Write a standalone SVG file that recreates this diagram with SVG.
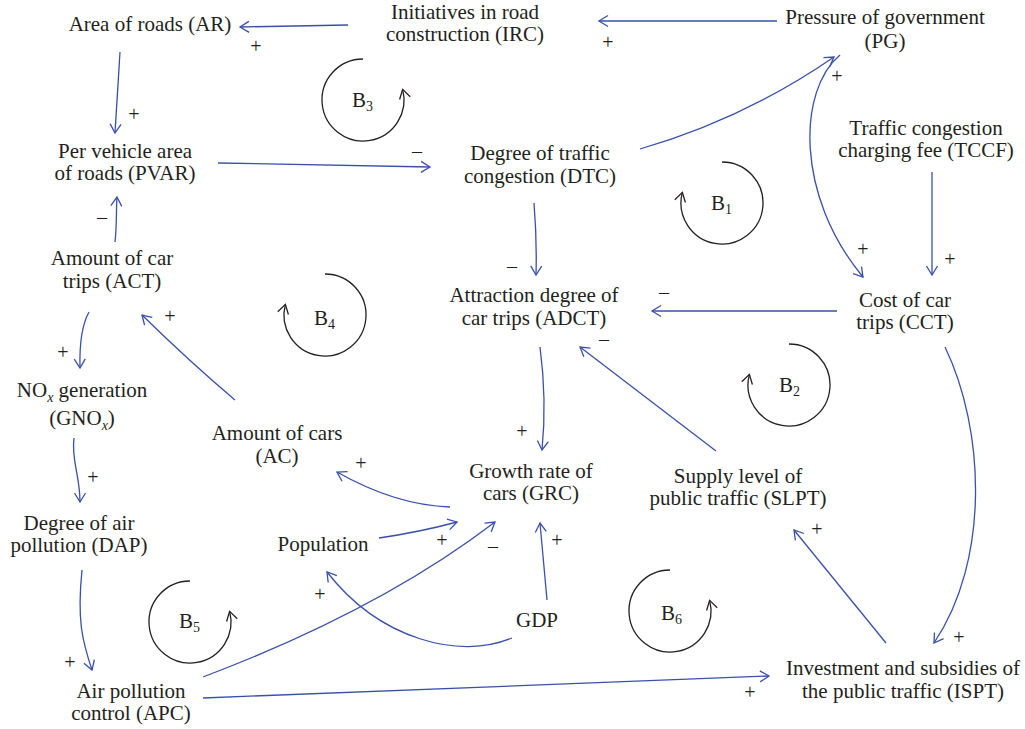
<svg xmlns="http://www.w3.org/2000/svg" width="1025" height="729" viewBox="0 0 1025 729">
<style>
text{font-family:"Liberation Serif","Times New Roman",serif;fill:#231f20}
.n{font-size:21px;text-anchor:middle}
.s{font-size:20px;text-anchor:middle}
.sub{font-size:14px}
.c{fill:none;stroke:#3a50a8;stroke-width:1.3;marker-end:url(#ah)}
.loop{fill:none;stroke:#231f20;stroke-width:1.3;marker-end:url(#lh)}
</style>
<defs>
<marker id="ah" markerUnits="userSpaceOnUse" viewBox="-11 -7 13 14" refX="0" refY="0" markerWidth="13" markerHeight="14" orient="auto">
<path d="M-9,-5.5 L0,0 L-9,5.5" fill="none" stroke="#3a50a8" stroke-width="1.3"/>
</marker>
<marker id="lh" markerUnits="userSpaceOnUse" viewBox="-11 -7 13 14" refX="0" refY="0" markerWidth="13" markerHeight="14" orient="auto">
<path d="M-9,-5.5 L0,0 L-9,5.5" fill="none" stroke="#231f20" stroke-width="1.3"/>
</marker>
</defs>
<rect width="1025" height="729" fill="#fff"/>

<g id="connectors">
<path class="c" d="M348,25 L240,27"/>
<path class="c" d="M777,21 L599,21"/>
<path class="c" d="M120,52 L115,133"/>
<path class="c" d="M218,163 L430,167"/>
<path class="c" d="M115,242 C117,225 116,210 117,197"/>
<path class="c" d="M640,149 Q744,119 834,57"/>
<path class="c" d="M840,55 C798,90 795,195 863,277"/>
<path class="c" d="M932,172 L932,275"/>
<path class="c" d="M534,203 Q537,240 536,275"/>
<path class="c" d="M837,311 L652,311"/>
<path class="c" d="M716,451 L580,347"/>
<path class="c" d="M540,347 Q547,400 542,450"/>
<path class="c" d="M945,347 C985,430 990,560 934,643"/>
<path class="c" d="M886,643 L794,530"/>
<path class="c" d="M203,698 L769,676"/>
<path class="c" d="M89,312 Q79,330 80,368"/>
<path class="c" d="M74,438 C71,460 80,475 80,502"/>
<path class="c" d="M82,570 C77,620 82,640 92,670"/>
<path class="c" d="M235,400 Q190,362 142,315"/>
<path class="c" d="M450,507 Q395,505 337,472"/>
<path class="c" d="M379,538 Q420,532 457,522"/>
<path class="c" d="M203,677 Q380,610 495,522"/>
<path class="c" d="M547,600 L540,523"/>
<path class="c" d="M512,638 C460,660 380,640 327,572"/>
</g>

<g id="signs">
<text class="s" x="256" y="53">+</text>
<text class="s" x="608" y="49">+</text>
<text class="s" x="134" y="121">+</text>
<text class="s" x="417" y="158">–</text>
<text class="s" x="102" y="224">–</text>
<text class="s" x="837" y="83">+</text>
<text class="s" x="863" y="256">+</text>
<text class="s" x="950" y="266">+</text>
<text class="s" x="512" y="273">–</text>
<text class="s" x="664" y="299">–</text>
<text class="s" x="604" y="346">–</text>
<text class="s" x="522" y="438">+</text>
<text class="s" x="959" y="644">+</text>
<text class="s" x="817" y="536">+</text>
<text class="s" x="750" y="699">+</text>
<text class="s" x="63" y="359">+</text>
<text class="s" x="93" y="484">+</text>
<text class="s" x="70" y="669">+</text>
<text class="s" x="170" y="323">+</text>
<text class="s" x="361" y="470">+</text>
<text class="s" x="442" y="547">+</text>
<text class="s" x="493" y="553">–</text>
<text class="s" x="557" y="547">+</text>
<text class="s" x="320" y="601">+</text>
</g>

<g id="loops">
<g id="B1"><path class="loop" d="M722,162 A41,41 0 1 1 682.4,192.4"/><text x="711" y="210" font-size="21">B<tspan class="sub" dy="4">1</tspan></text></g>
<g id="B2"><path class="loop" d="M789,344 A41,41 0 1 1 749.4,374.4"/><text x="779" y="392" font-size="21">B<tspan class="sub" dy="4">2</tspan></text></g>
<g id="B3"><path class="loop" d="M363,59 A41,41 0 1 0 402.6,89.4"/><text x="352" y="107" font-size="21">B<tspan class="sub" dy="4">3</tspan></text></g>
<g id="B4"><path class="loop" d="M325,274 A41,41 0 1 1 285.4,304.4"/><text x="314" y="325" font-size="21">B<tspan class="sub" dy="4">4</tspan></text></g>
<g id="B5"><path class="loop" d="M190,581 A41,41 0 1 0 229.6,611.4"/><text x="179" y="628" font-size="21">B<tspan class="sub" dy="4">5</tspan></text></g>
<g id="B6"><path class="loop" d="M670,570 A41,41 0 1 0 709.6,600.4"/><text x="661" y="620" font-size="21">B<tspan class="sub" dy="4">6</tspan></text></g>
</g>

<g id="AR"><text class="n" x="150" y="31">Area of roads (AR)</text></g>
<g id="IRC"><text class="n" x="465" y="19">Initiatives in road</text><text class="n" x="465" y="41">construction (IRC)</text></g>
<g id="PG"><text class="n" x="885" y="24">Pressure of government</text><text class="n" x="885" y="48">(PG)</text></g>
<g id="PVAR"><text class="n" x="125" y="158">Per vehicle area</text><text class="n" x="125" y="180">of roads (PVAR)</text></g>
<g id="DTC"><text class="n" x="540" y="160">Degree of traffic</text><text class="n" x="540" y="183">congestion (DTC)</text></g>
<g id="TCCF"><text class="n" x="926" y="135">Traffic congestion</text><text class="n" x="926" y="157">charging fee (TCCF)</text></g>
<g id="ACT"><text class="n" x="112" y="265">Amount of car</text><text class="n" x="112" y="288">trips (ACT)</text></g>
<g id="ADCT"><text class="n" x="534" y="302">Attraction degree of</text><text class="n" x="534" y="325">car trips (ADCT)</text></g>
<g id="CCT"><text class="n" x="905" y="307">Cost of car</text><text class="n" x="905" y="329">trips (CCT)</text></g>
<g id="GNOx"><text class="n" x="82" y="397">NO<tspan class="sub" font-style="italic" dy="5">x</tspan><tspan dy="-5"> generation</tspan></text><text class="n" x="82" y="425">(GNO<tspan class="sub" font-style="italic" dy="5">x</tspan><tspan dy="-5">)</tspan></text></g>
<g id="AC"><text class="n" x="277" y="440">Amount of cars</text><text class="n" x="277" y="463">(AC)</text></g>
<g id="GRC"><text class="n" x="531" y="478">Growth rate of</text><text class="n" x="531" y="500">cars (GRC)</text></g>
<g id="SLPT"><text class="n" x="738" y="483">Supply level of</text><text class="n" x="738" y="505">public traffic (SLPT)</text></g>
<g id="DAP"><text class="n" x="79" y="530">Degree of air</text><text class="n" x="79" y="552">pollution (DAP)</text></g>
<g id="Population"><text class="n" x="323" y="551">Population</text></g>
<g id="GDP"><text class="n" x="537" y="627">GDP</text></g>
<g id="APC"><text class="n" x="131" y="698">Air pollution</text><text class="n" x="131" y="720">control (APC)</text></g>
<g id="ISPT"><text class="n" x="903" y="675">Investment and subsidies of</text><text class="n" x="903" y="698">the public traffic (ISPT)</text></g>
</svg>
